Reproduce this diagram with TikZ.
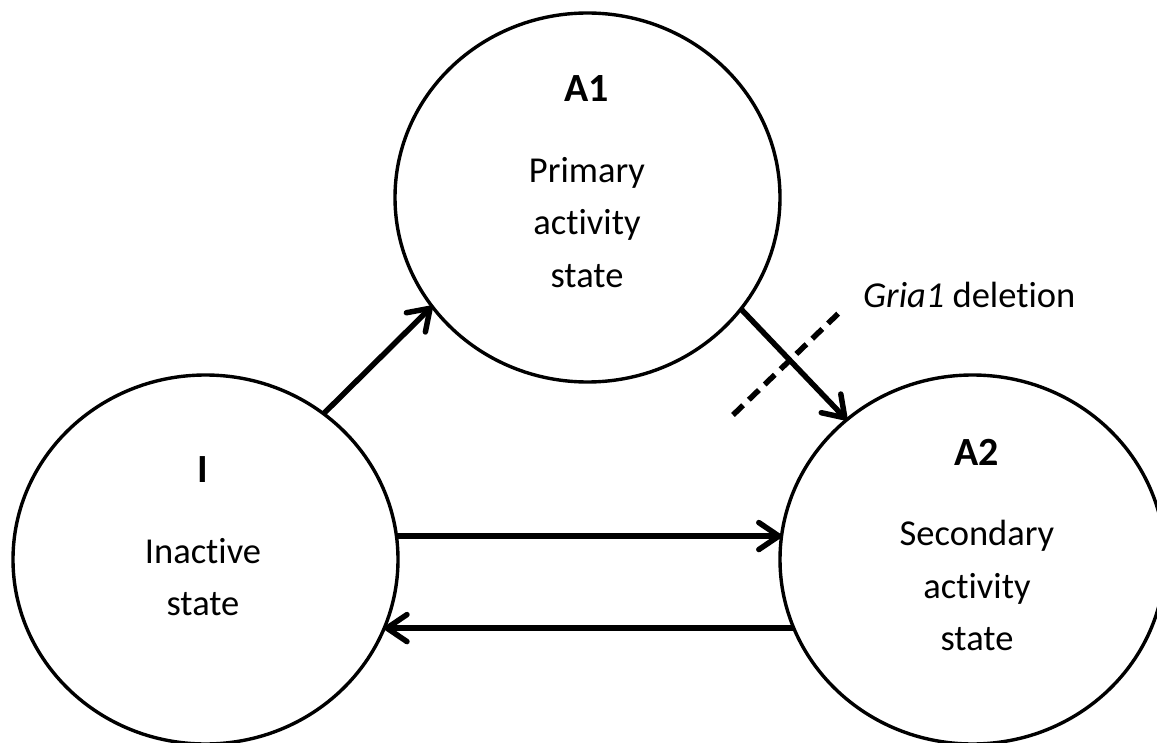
\documentclass[tikz,border=0pt]{standalone}
\usepackage{fontspec}
\setmainfont{Carlito}[Ligatures=NoCommon]
\usetikzlibrary{arrows.meta,shapes.geometric}
\begin{document}
\begin{tikzpicture}[x=1pt,y=-1pt,
  st/.style={ellipse,draw,line width=3.4pt,minimum width=385pt,minimum height=369pt,inner sep=0pt,outer sep=0pt},
  lab/.style={font=\fontsize{40}{48}\selectfont\bfseries,anchor=base,inner sep=0pt},
  txt/.style={font=\fontsize{36.5}{44}\selectfont,anchor=base,inner sep=0pt},
  arr/.style={line width=5.5pt,-{Straight Barb[length=20pt,width=27pt,round]}},
  cut/.style={line width=5.5pt,dash pattern=on 14pt off 8pt}]
\useasboundingbox (0,0) rectangle (1157,743);
\node[st] (I) at (205.5,559.5) {};
\node[st] (A1) at (587.5,197.5) {};
\node[st] (A2) at (972.5,559.5) {};
% labels
\node[lab] (Il) at (203,482) {I};
\node[txt] (It1) at (203,563) {Inactive};
\node[txt] (It2) at (203,615) {state};
\node[lab] (A1l) at (587,102) {A1};
\node[txt] (A1t1) at (587,183) {Primary};
\node[txt] (A1t2) at (587,235) {activity};
\node[txt] (A1t3) at (587,288) {state};
\node[lab] (A2l) at (977,465) {A2};
\node[txt] (A2t1) at (977,545) {Secondary};
\node[txt] (A2t2) at (977,598) {activity};
\node[txt] (A2t3) at (977,650) {state};
% arrows
\draw[arr] (I.51.5) -- (A1.215.6);
\draw[arr] (A1.-36.1) -- (A2.132.2);
\draw[arr] (I.7) -- (A2.173);
\draw[arr] (A2.201) -- (I.-21);
% deletion
\coordinate (c1) at (733,415);
\coordinate (c2) at (843,309);
\draw[cut] (c1) -- (c2);
\node[txt,anchor=base west] (gria) at (863,308) {\textit{Gria1} deletion};
\end{tikzpicture}
\end{document}
